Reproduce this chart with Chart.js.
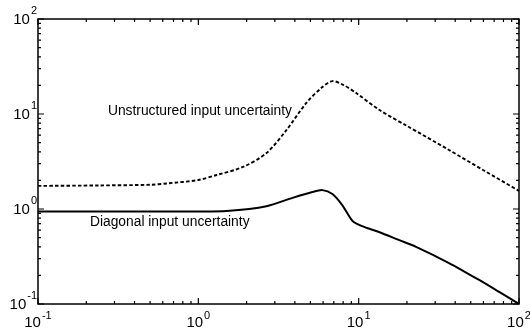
<!DOCTYPE html>
<html>
<head>
<meta charset="utf-8">
<script src="https://cdn.jsdelivr.net/npm/chart.js@4.4.0/dist/chart.umd.min.js"></script>
<style>
  html, body { margin: 0; padding: 0; background: #fff; }
  #wrap { width: 530px; height: 334px; position: relative; }
</style>
</head>
<body>
<div id="wrap"><canvas id="sv"></canvas></div>
<script>
// frequency / gain
const unstructuredFreq = [0.1, 0.24, 0.5, 0.64, 1.0, 1.3, 1.9, 2.66, 3.55, 4.72, 5.94, 6.86, 8.0, 9.66, 13.5, 20, 36.6, 60, 100];
const unstructuredGain = [1.75, 1.77, 1.8, 1.86, 2.02, 2.28, 2.77, 3.88, 6.8, 13.1, 19.2, 22.2, 20.3, 16.6, 11.0, 7.5, 4.18, 2.56, 1.55];

const diagonalFreq = [0.1, 1.0, 1.5, 2.66, 3.87, 5.15, 5.94, 6.86, 7.9, 9.14, 10.5, 13.5, 17.9, 22.8, 36.6, 56.4, 75.2, 100];
const diagonalGain = [0.94, 0.94, 0.95, 1.07, 1.31, 1.51, 1.58, 1.44, 1.10, 0.75, 0.66, 0.57, 0.47, 0.40, 0.27, 0.179, 0.134, 0.10];

const majorTicks = [0.1, 1, 10, 100];
const tickExponents = ['-1', '0', '1', '2'];
const minorSteps = [2, 3, 4, 5, 6, 7, 8, 9];

const curveLabels = [
    { text: 'Unstructured input uncertainty', x: 0.273, y: 10.8 },
    { text: 'Diagonal input uncertainty', x: 0.211, y: 0.73 }
];

const toPoints = (xs, ys) => xs.map((x, i) => ({ x: x, y: ys[i] }));

// frame, inward ticks, 10^n labels and curve texts (MATLAB look)
const matlabAxes = {
    id: 'matlabAxes',
    afterDraw(chart) {
        const { ctx, chartArea: a, scales } = chart;
        const xs = scales.x, ys = scales.y;
        ctx.save();
        ctx.strokeStyle = '#000';
        ctx.lineWidth = 1.2;

        const minor = [];
        majorTicks.slice(0, -1).forEach(d => minorSteps.forEach(m => minor.push(d * m)));

        const tick = (v, len) => {
            const px = xs.getPixelForValue(v);
            const py = ys.getPixelForValue(v);
            ctx.beginPath();
            ctx.moveTo(px, a.bottom); ctx.lineTo(px, a.bottom - len);
            ctx.moveTo(px, a.top); ctx.lineTo(px, a.top + len);
            ctx.moveTo(a.left, py); ctx.lineTo(a.left + len, py);
            ctx.moveTo(a.right, py); ctx.lineTo(a.right - len, py);
            ctx.stroke();
        };
        minor.forEach(v => tick(v, 3));
        majorTicks.forEach(v => tick(v, 6));

        ctx.lineWidth = 1.5;
        ctx.strokeRect(a.left, a.top, a.right - a.left, a.bottom - a.top);

        // tick labels
        ctx.fillStyle = '#000';
        ctx.textBaseline = 'middle';
        const baseFont = '15px "Liberation Sans", Arial, sans-serif';
        const expFont = '11px "Liberation Sans", Arial, sans-serif';
        majorTicks.forEach((v, i) => {
            const e = tickExponents[i];
            ctx.font = baseFont;
            const bw = ctx.measureText('10').width;
            ctx.font = expFont;
            const ew = ctx.measureText(e).width;

            // y axis, right aligned
            const py = ys.getPixelForValue(v);
            const rx = a.left - 1;
            ctx.textAlign = 'left';
            ctx.font = baseFont;
            ctx.fillText('10', rx - ew - bw - 1, py + 1);
            ctx.font = expFont;
            ctx.fillText(e, rx - ew, py - 8);

            // x axis, centred
            const px = xs.getPixelForValue(v);
            const lx = px - (bw + ew + 1) / 2;
            ctx.font = baseFont;
            ctx.fillText('10', lx, a.bottom + 19);
            ctx.font = expFont;
            ctx.fillText(e, lx + bw + 1, a.bottom + 12);
        });

        // curve texts
        ctx.font = '13.8px "Liberation Sans", Arial, sans-serif';
        ctx.textAlign = 'left';
        curveLabels.forEach(l => {
            ctx.fillText(l.text, xs.getPixelForValue(l.x), ys.getPixelForValue(l.y));
        });
        ctx.restore();
    }
};

new Chart(document.getElementById('sv'), {
    type: 'scatter',
    data: {
        datasets: [
            {
                label: 'Unstructured input uncertainty',
                data: toPoints(unstructuredFreq, unstructuredGain),
                showLine: true,
                borderColor: '#000',
                borderWidth: 1.9,
                borderDash: [3.5, 2.2],
                pointRadius: 0,
                tension: 0.3
            },
            {
                label: 'Diagonal input uncertainty',
                data: toPoints(diagonalFreq, diagonalGain),
                showLine: true,
                borderColor: '#000',
                borderWidth: 2,
                pointRadius: 0,
                tension: 0.25
            }
        ]
    },
    options: {
        responsive: true,
        maintainAspectRatio: false,
        animation: false,
        layout: { padding: { top: 19, right: 11, left: 0, bottom: 0 } },
        plugins: {
            legend: { display: false },
            tooltip: { enabled: false }
        },
        scales: {
            x: {
                type: 'logarithmic',
                min: 0.1, max: 100,
                grid: { display: false },
                border: { display: false },
                ticks: { display: false },
                afterFit(s) { s.height = 30; }
            },
            y: {
                type: 'logarithmic',
                min: 0.1, max: 100,
                grid: { display: false },
                border: { display: false },
                ticks: { display: false },
                afterFit(s) { s.width = 38; }
            }
        }
    },
    plugins: [matlabAxes]
});
</script>
</body>
</html>
